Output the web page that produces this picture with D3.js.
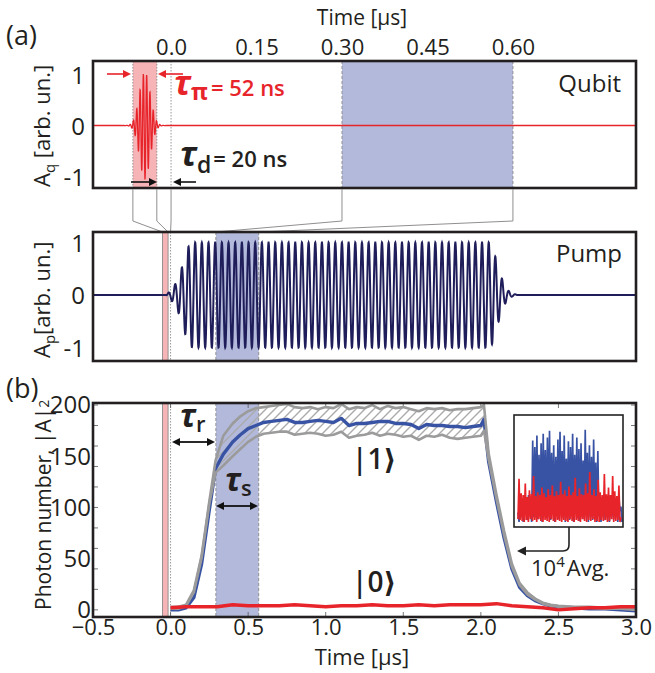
<!DOCTYPE html>
<html><head><meta charset="utf-8">
<script src="https://cdn.jsdelivr.net/npm/d3@7"></script>
<style>
body{margin:0;background:#fff}
svg{display:block}
text{font-family:"Open Sans","DejaVu Sans",sans-serif;fill:#231f20}
</style>
</head><body>
<svg id="c" width="655" height="673"></svg>
<script>
// ---------------- data ----------------
const topTicks = [0.0, 0.15, 0.30, 0.45, 0.60];
const topTickLabels = ["0.0", "0.15", "0.30", "0.45", "0.60"];
const ampTicks = [1, 0, -1];
const ampTickLabels = ["1", "0", "-1"];
const timeTicks = [-0.5, 0.0, 0.5, 1.0, 1.5, 2.0, 2.5, 3.0];
const timeTickLabels = ["\u22120.5", "0.0", "0.5", "1.0", "1.5", "2.0", "2.5", "3.0"];
const photonTicks = [0, 50, 100, 150, 200];
const photonTickLabels = ["0", "50", "100", "150", "200"];
const photonMinorTicks = [0, 20, 40, 60, 80, 100, 120, 140, 160, 180, 200];

// windows (µs)
const piWindowQubit = [-0.067, -0.025];
const readWindowQubit = [0.30, 0.60];
const piWindowLower = [-0.052, -0.016];
const readWindowLower = [0.292, 0.568];

// qubit pi pulse (gaussian-shaped drive)
const qubitPulseCenter = -0.046;
const qubitPulseSigma = 0.0093;
const qubitPulsePeriod = 0.0058;
const qubitPulseAmp = 1.05;

// pump drive: envelope breakpoints + carrier
const pumpEnvT = [-0.03, 0.0, 0.04, 0.076, 0.095, 0.115, 0.14, 2.052, 2.074, 2.089, 2.11, 2.128, 2.15, 2.17, 2.2, 2.24];
const pumpEnvA = [0, 0.08, 0.25, 0.55, 0.75, 0.92, 1.0, 1.0, 0.93, 0.78, 0.55, 0.38, 0.2, 0.1, 0.03, 0];
const pumpPeriod = 0.0430;
const pumpPhaseT = 0.1156;

// photon number |1> (mean, upper, lower) and |0>
const oneT = [0, 0.05, 0.1, 0.15, 0.2, 0.25, 0.29, 0.34, 0.4, 0.45, 0.5, 0.55, 0.6, 0.65, 0.7, 0.75, 0.8, 0.85, 0.9, 0.95, 1.0, 1.05, 1.1, 1.15, 1.2, 1.25, 1.3, 1.35, 1.4, 1.45, 1.5, 1.55, 1.6, 1.65, 1.7, 1.75, 1.8, 1.85, 1.9, 1.95, 2.0, 2.02, 2.05, 2.1, 2.15, 2.2, 2.25, 2.3, 2.35, 2.4, 2.45, 2.5, 2.6, 2.7, 2.8, 2.9, 3.0];
const oneMean = [0, 0, 2, 12, 45, 98, 138, 152, 164, 171, 177, 180, 183, 184, 185, 186, 183, 183, 184, 185, 184, 183, 187, 180, 182, 182, 183, 184, 184, 182, 182, 181, 177, 181, 180, 180, 179, 179, 178, 179, 180, 186, 145, 106, 70, 40, 22, 14, 9, 6, 4, 3, 2, 1, 1, 0, -1];
const oneUpper = [3, 3, 5, 19, 53, 106, 146, 170, 182, 189, 194, 197, 198, 199, 200, 201, 198, 197, 198, 196, 198, 197, 201, 196, 198, 197, 200, 196, 199, 197, 198, 196, 194, 197, 196, 197, 195, 196, 196, 197, 198, 200, 153, 113, 77, 45, 26, 17, 11, 7, 5, 4, 3, 3, 2, 2, 1];
const oneLower = [1, 1, 4, 17, 51, 104, 134, 141, 150, 157, 164, 169, 172, 173, 174, 174, 171, 172, 173, 172, 170, 171, 174, 168, 170, 171, 173, 170, 172, 171, 169, 170, 166, 170, 169, 171, 168, 167, 168, 169, 170, 175, 147, 109, 73, 42, 24, 15, 10, 6, 4, 3, 2, 2, 1, 1, 0];
const zeroT = [0, 0.1, 0.2, 0.3, 0.4, 0.5, 0.6, 0.7, 0.8, 0.9, 1.0, 1.1, 1.2, 1.3, 1.4, 1.5, 1.6, 1.7, 1.8, 1.9, 2.0, 2.1, 2.2, 2.3, 2.4, 2.5, 2.6, 2.7, 2.8, 2.9, 3.0];
const zeroMean = [2, 3, 3, 3, 5, 4, 4, 4, 5, 4, 3, 4, 4, 5, 4, 4, 5, 4, 5, 5, 5, 6, 4, 3, 2, 0, 1, 2, 2, 3, 3];

// inset: single-shot traces (arb. units 0..100)
const insetBlue = [10, 0, 22, 5, 18, 0, 25, 8, 20, 2, 28, 6, 19, 0,
  85, 5, 78, 12, 90, 3, 70, 8, 82, 0, 92, 10, 75, 4, 88, 6, 95, 2, 72, 9, 80, 0, 68, 7, 86, 3, 94, 11, 74, 5, 90, 0, 66, 8, 84, 2, 78, 6, 92, 0, 70, 9, 88, 4, 76, 1, 82, 7, 64, 3, 96, 10, 72, 0, 80, 5, 68, 2, 86, 8, 62, 0, 74,
  6, 22, 0, 26, 8, 18, 2, 24, 10, 20, 0, 28, 6, 22, 3, 25, 9, 19, 0, 27, 11, 16, 0];
const insetRed = [3, 45, 2, 30, 1, 28, 0, 40, 2, 26, 0, 33, 3, 29, 1, 48, 2, 27, 0, 31, 3, 28, 1, 36, 0, 30, 2, 26, 1, 34, 0, 28, 3, 38, 1, 27, 0, 32, 2, 28, 1, 42, 0, 29, 2, 33, 1, 27, 0, 37, 3, 28, 1, 31, 0, 46, 2, 27, 1, 35, 0, 29, 3, 28, 1, 40, 0, 30, 2, 52, 1, 28, 3, 34, 0, 27, 1, 44, 0, 31, 2, 28, 1, 50, 2, 29, 0, 36, 1, 28, 3, 48, 0, 32, 1, 27, 2, 38, 0, 5];

// ---------------- drawing ----------------
const C = {red: "#e8242b", blue: "#3953a4", gray: "#9b9b9b", pump: "#1f1d5a",
  band: "#b3b9da", pink: "#f6b4b7", frame: "#231f20"};
const svg = d3.select("#c");
const defs = svg.append("defs");
const hatch = defs.append("pattern").attr("id", "hatch").attr("patternUnits", "userSpaceOnUse")
  .attr("width", 9).attr("height", 9);
hatch.append("path").attr("d", "M-1,10 L10,-1 M-2,2 L2,-2 M7,11 L11,7")
  .attr("stroke", "#aaaaaa").attr("stroke-width", 1.4);

const P = {
  q: {x0: 93, x1: 636, y0: 61, y1: 188},
  p: {x0: 93, x1: 636, y0: 232, y1: 361},
  b: {x0: 93, x1: 636, y0: 403, y1: 617}
};
Object.entries(P).forEach(([k, b]) => {
  defs.append("clipPath").attr("id", "clip-" + k).append("rect")
    .attr("x", b.x0).attr("y", b.y0).attr("width", b.x1 - b.x0).attr("height", b.y1 - b.y0);
});

const xQ = d3.scaleLinear().domain([-0.137, 0.816]).range([P.q.x0, P.q.x1]);
const yQ = d3.scaleLinear().domain([-1.225, 1.265]).range([P.q.y1, P.q.y0]);
const xL = d3.scaleLinear().domain([-0.5, 3.0]).range([P.p.x0, P.p.x1]);
const yP = d3.scaleLinear().domain([-1.257, 1.2]).range([P.p.y1, P.p.y0]);
const yB = d3.scaleLinear().domain([-7, 202]).range([P.b.y1, P.b.y0]);

function band(g, x, win, y0, y1, fill, edgeDash) {
  g.append("rect").attr("x", x(win[0])).attr("y", y0).attr("width", x(win[1]) - x(win[0]))
    .attr("height", y1 - y0).attr("fill", fill);
  win.forEach(t => g.append("line").attr("x1", x(t)).attr("x2", x(t)).attr("y1", y0).attr("y2", y1)
    .attr("stroke", "#8a8a8a").attr("stroke-width", 0.9).attr("stroke-dasharray", edgeDash));
}
function vdot(g, x, t, y0, y1) {
  g.append("line").attr("x1", x(t)).attr("x2", x(t)).attr("y1", y0).attr("y2", y1)
    .attr("stroke", "#8a8a8a").attr("stroke-width", 0.9).attr("stroke-dasharray", "1.5,1.5");
}
function arrow(g, x1, y, x2, color, w) {
  const dir = Math.sign(x2 - x1), L = 8, H = 4;
  g.append("line").attr("x1", x1).attr("x2", x2 - dir * (L - 1)).attr("y1", y).attr("y2", y)
    .attr("stroke", color).attr("stroke-width", w || 1.6);
  g.append("path").attr("d", `M${x2},${y} L${x2 - dir * L},${y - H} L${x2 - dir * L},${y + H} Z`).attr("fill", color);
}
function dblArrow(g, x1, x2, y) {
  const L = 8, H = 4;
  g.append("line").attr("x1", x1 + L - 1).attr("x2", x2 - L + 1).attr("y1", y).attr("y2", y)
    .attr("stroke", "#111").attr("stroke-width", 1.8);
  g.append("path").attr("d", `M${x1},${y} L${x1 + L},${y - H} L${x1 + L},${y + H} Z`).attr("fill", "#111");
  g.append("path").attr("d", `M${x2},${y} L${x2 - L},${y - H} L${x2 - L},${y + H} Z`).attr("fill", "#111");
}
function styleAxis(g, size) {
  g.attr("font-family", null).attr("font-size", size);
  g.select(".domain").remove();
}

// ===== panel (a) Qubit =====
const gq = svg.append("g");
const gqc = gq.append("g").attr("clip-path", "url(#clip-q)");
band(gqc, xQ, readWindowQubit, P.q.y0, P.q.y1, C.band, "3,2");
band(gqc, xQ, piWindowQubit, P.q.y0, P.q.y1, C.pink, "1.5,1.5");
vdot(gqc, xQ, 0, P.q.y0, P.q.y1);
const qT = d3.range(-0.137, 0.8161, 0.0002);
const qLine = d3.line().x(t => xQ(t)).y(t => {
  const d = t - qubitPulseCenter;
  return yQ(qubitPulseAmp * Math.exp(-d * d / (2 * qubitPulseSigma * qubitPulseSigma)) * Math.cos(2 * Math.PI * (t + 0.0486) / qubitPulsePeriod));
});
gqc.append("path").attr("d", qLine(qT)).attr("fill", "none").attr("stroke", C.red).attr("stroke-width", 1.3);

const axQ = gq.append("g").attr("transform", `translate(0,${P.q.y0})`)
  .call(d3.axisTop(xQ).tickValues(topTicks).tickFormat((d, i) => topTickLabels[i]).tickSize(0).tickPadding(6));
styleAxis(axQ, 22);
const ayQ = gq.append("g").attr("transform", `translate(${P.q.x0},0)`)
  .call(d3.axisLeft(yQ).tickValues(ampTicks).tickFormat((d, i) => ampTickLabels[i]).tickSize(0).tickPadding(8));
styleAxis(ayQ, 24);
ayQ.selectAll("text").attr("dy", "0.36em");
gq.append("rect").attr("x", P.q.x0).attr("y", P.q.y0).attr("width", P.q.x1 - P.q.x0).attr("height", P.q.y1 - P.q.y0)
  .attr("fill", "none").attr("stroke", C.frame).attr("stroke-width", 2.6);
gq.append("text").attr("x", 362).attr("y", 25).attr("text-anchor", "middle").attr("font-size", 21).text("Time [\u00b5s]");
gq.append("text").attr("x", 621).attr("y", 92).attr("text-anchor", "end").attr("font-size", 24).text("Qubit");
gq.append("text").attr("x", 6).attr("y", 45).attr("font-size", 27).text("(a)");
{
  const t = gq.append("text").attr("transform", "translate(50,187) rotate(-90)").attr("font-size", 22);
  t.append("tspan").text("A");
  t.append("tspan").attr("font-size", 15).attr("dy", 5).text("q");
  t.append("tspan").attr("dy", -5).text(" [arb. un.]");
}
// tau_pi annotation
arrow(gq, 107, 74, 131, C.red, 1.6);
arrow(gq, 183, 74, 158, C.red, 1.6);
{
  const t = gq.append("text").attr("x", 174).attr("y", 95).style("fill", C.red);
  t.append("tspan").attr("font-size", 34).attr("font-style", "italic").attr("font-weight", 700).text("\u03c4");
  t.append("tspan").attr("font-size", 23).attr("font-weight", 700).attr("dy", 5).text("\u03c0");
  t.append("tspan").attr("font-size", 22).attr("font-weight", 600).attr("dy", -4).attr("dx", 3).text("= 52 ns");
}
// tau_d annotation
arrow(gq, 131, 182, 157, "#111", 1.6);
arrow(gq, 196, 182, 173, "#111", 1.6);
{
  const t = gq.append("text").attr("x", 180).attr("y", 166);
  t.append("tspan").attr("font-size", 34).attr("font-style", "italic").attr("font-weight", 700).text("\u03c4");
  t.append("tspan").attr("font-size", 23).attr("font-weight", 600).attr("dy", 7).text("d");
  t.append("tspan").attr("font-size", 22).attr("font-weight", 600).attr("dy", -6).attr("dx", 2).text("= 20 ns");
}

// ===== connectors =====
const conn = [[piWindowQubit[0], piWindowLower[0]], [piWindowQubit[1], piWindowLower[1]], [0, 0],
  [readWindowQubit[0], readWindowLower[0]], [readWindowQubit[1], readWindowLower[1]]];
conn.forEach(([a, b]) => {
  svg.append("path").attr("d", `M${xQ(a)},${P.q.y1 + 1} V221 L${xL(b)},${P.p.y0}`)
    .attr("fill", "none").attr("stroke", "#8f8f8f").attr("stroke-width", 1);
});

// ===== panel Pump =====
const gp = svg.append("g");
const gpc = gp.append("g").attr("clip-path", "url(#clip-p)");
band(gpc, xL, readWindowLower, P.p.y0, P.p.y1, C.band, "3,2");
band(gpc, xL, piWindowLower, P.p.y0, P.p.y1, C.pink, "none");
vdot(gpc, xL, 0, P.p.y0, P.p.y1);
const env = d3.scaleLinear().domain(pumpEnvT).range(pumpEnvA).clamp(true);
const pT = d3.range(-0.5, 3.0005, 0.0008);
const pLine = d3.line().x(t => xL(t)).y(t => yP(env(t) * Math.cos(2 * Math.PI * (t - pumpPhaseT) / pumpPeriod)));
gpc.append("path").attr("d", pLine(pT)).attr("fill", "none").attr("stroke", C.pump).attr("stroke-width", 2);
const ayP = gp.append("g").attr("transform", `translate(${P.p.x0},0)`)
  .call(d3.axisLeft(yP).tickValues(ampTicks).tickFormat((d, i) => ampTickLabels[i]).tickSize(0).tickPadding(8));
styleAxis(ayP, 24);
ayP.selectAll("text").attr("dy", "0.36em");
gp.append("rect").attr("x", P.p.x0).attr("y", P.p.y0).attr("width", P.p.x1 - P.p.x0).attr("height", P.p.y1 - P.p.y0)
  .attr("fill", "none").attr("stroke", C.frame).attr("stroke-width", 2.6);
gp.append("text").attr("x", 622).attr("y", 262).attr("text-anchor", "end").attr("font-size", 24).text("Pump");
{
  const t = gp.append("text").attr("transform", "translate(50,358) rotate(-90)").attr("font-size", 22);
  t.append("tspan").text("A");
  t.append("tspan").attr("font-size", 15).attr("dy", 5).text("p");
  t.append("tspan").attr("dy", -5).text("[arb. un.]");
}

// ===== panel (b) =====
const gb = svg.append("g");
const gbc = gb.append("g").attr("clip-path", "url(#clip-b)");
band(gbc, xL, readWindowLower, P.b.y0, P.b.y1, C.band, "3,2");
band(gbc, xL, piWindowLower, P.b.y0, P.b.y1, C.pink, "none");
vdot(gbc, xL, 0, P.b.y0, P.b.y1);
// inner ticks
photonMinorTicks.forEach(v => {
  [[P.b.x0, 5], [P.b.x1, -5]].forEach(([x, d]) => gbc.append("line").attr("x1", x).attr("x2", x + d)
    .attr("y1", yB(v)).attr("y2", yB(v)).attr("stroke", "#555").attr("stroke-width", 0.8));
});
timeTicks.forEach(t => {
  [[P.b.y1, -5], [P.b.y0, 5]].forEach(([y, d]) => gbc.append("line").attr("x1", xL(t)).attr("x2", xL(t))
    .attr("y1", y).attr("y2", y + d).attr("stroke", "#555").attr("stroke-width", 0.8));
});
const idx = d3.range(oneT.length);
const area = d3.area().x(i => xL(oneT[i])).y0(i => yB(oneLower[i])).y1(i => yB(oneUpper[i]));
gbc.append("path").attr("d", area(idx)).attr("fill", "url(#hatch)");
const lineOf = arr => d3.line().x(i => xL(oneT[i])).y(i => yB(arr[i]));
gbc.append("path").attr("d", lineOf(oneMean)(idx)).attr("fill", "none").attr("stroke", C.blue).attr("stroke-width", 3.4).attr("stroke-linejoin", "round");
[oneUpper, oneLower].forEach(arr => gbc.append("path").attr("d", lineOf(arr)(idx)).attr("fill", "none")
  .attr("stroke", C.gray).attr("stroke-width", 2.6).attr("stroke-linejoin", "round"));
const zLine = d3.line().x((d, i) => xL(zeroT[i])).y(d => yB(d));
gbc.append("path").attr("d", zLine(zeroMean)).attr("fill", "none").attr("stroke", C.red).attr("stroke-width", 3.4).attr("stroke-linejoin", "round");

// inset
const I = {x0: 514, x1: 623, y0: 415, y1: 527};
gb.append("rect").attr("x", I.x0).attr("y", I.y0).attr("width", I.x1 - I.x0).attr("height", I.y1 - I.y0).attr("fill", "#fff");
const xI = d3.scaleLinear().domain([0, insetBlue.length - 1]).range([518, 622]);
const xIr = d3.scaleLinear().domain([0, insetRed.length - 1]).range([518, 621]);
const yI = d3.scaleLinear().domain([0, 100]).range([522, 426]);
gb.append("path").attr("d", d3.line().x((d, i) => xI(i)).y(d => yI(d))(insetBlue)).attr("fill", "none").attr("stroke", C.blue).attr("stroke-width", 1.7);
gb.append("path").attr("d", d3.line().x((d, i) => xIr(i)).y(d => yI(d))(insetRed)).attr("fill", "none").attr("stroke", C.red).attr("stroke-width", 1.7);
gb.append("rect").attr("x", I.x0).attr("y", I.y0).attr("width", I.x1 - I.x0).attr("height", I.y1 - I.y0)
  .attr("fill", "none").attr("stroke", "#222").attr("stroke-width", 1.6);
gb.append("path").attr("d", "M569,527 V545 Q569,551 563,551 H525").attr("fill", "none").attr("stroke", "#222").attr("stroke-width", 1.6);
gb.append("path").attr("d", "M517,551 L526,546.5 L526,555.5 Z").attr("fill", "#222");
{
  const t = gb.append("text").attr("x", 531).attr("y", 576).attr("font-size", 22);
  t.append("tspan").text("10");
  t.append("tspan").attr("font-size", 15).attr("dy", -9).text("4");
  t.append("tspan").attr("dy", 9).attr("dx", 2).text("Avg.");
}
// axes (b)
const axB = gb.append("g").attr("transform", `translate(0,${P.b.y1})`)
  .call(d3.axisBottom(xL).tickValues(timeTicks).tickFormat((d, i) => timeTickLabels[i]).tickSize(0).tickPadding(2));
styleAxis(axB, 22);
const ayB = gb.append("g").attr("transform", `translate(${P.b.x0},0)`)
  .call(d3.axisLeft(yB).tickValues(photonTicks).tickFormat((d, i) => photonTickLabels[i]).tickSize(0).tickPadding(2));
styleAxis(ayB, 24);
ayB.selectAll("text").attr("dy", "0.33em");
gb.append("rect").attr("x", P.b.x0).attr("y", P.b.y0).attr("width", P.b.x1 - P.b.x0).attr("height", P.b.y1 - P.b.y0)
  .attr("fill", "none").attr("stroke", C.frame).attr("stroke-width", 2.6);
gb.append("text").attr("x", 362).attr("y", 665).attr("text-anchor", "middle").attr("font-size", 22).text("Time [\u00b5s]");
gb.append("text").attr("x", 6).attr("y", 398).attr("font-size", 27).text("(b)");
{
  const t = gb.append("text").attr("transform", "translate(51,610) rotate(-90)").attr("font-size", 21);
  t.append("tspan").text("Photon number, |A|");
  t.append("tspan").attr("font-size", 14).attr("dy", -2).text("2");
}
// tau_r / tau_s
dblArrow(gb, 172, 215, 442);
{
  const t = gb.append("text").attr("x", 180).attr("y", 427);
  t.append("tspan").attr("font-size", 32).attr("font-style", "italic").attr("font-weight", 700).text("\u03c4");
  t.append("tspan").attr("font-size", 22).attr("font-weight", 600).attr("dy", 5).text("r");
}
dblArrow(gb, 216, 258, 506);
{
  const t = gb.append("text").attr("x", 225).attr("y", 491);
  t.append("tspan").attr("font-size", 32).attr("font-style", "italic").attr("font-weight", 700).text("\u03c4");
  t.append("tspan").attr("font-size", 22).attr("font-weight", 600).attr("dy", 5).text("s");
}
gb.append("text").attr("x", 352).attr("y", 469).attr("font-size", 28).attr("font-weight", 600).text("|1\u27e9");
gb.append("text").attr("x", 352).attr("y", 592).attr("font-size", 28).attr("font-weight", 600).text("|0\u27e9");
</script>
</body></html>
